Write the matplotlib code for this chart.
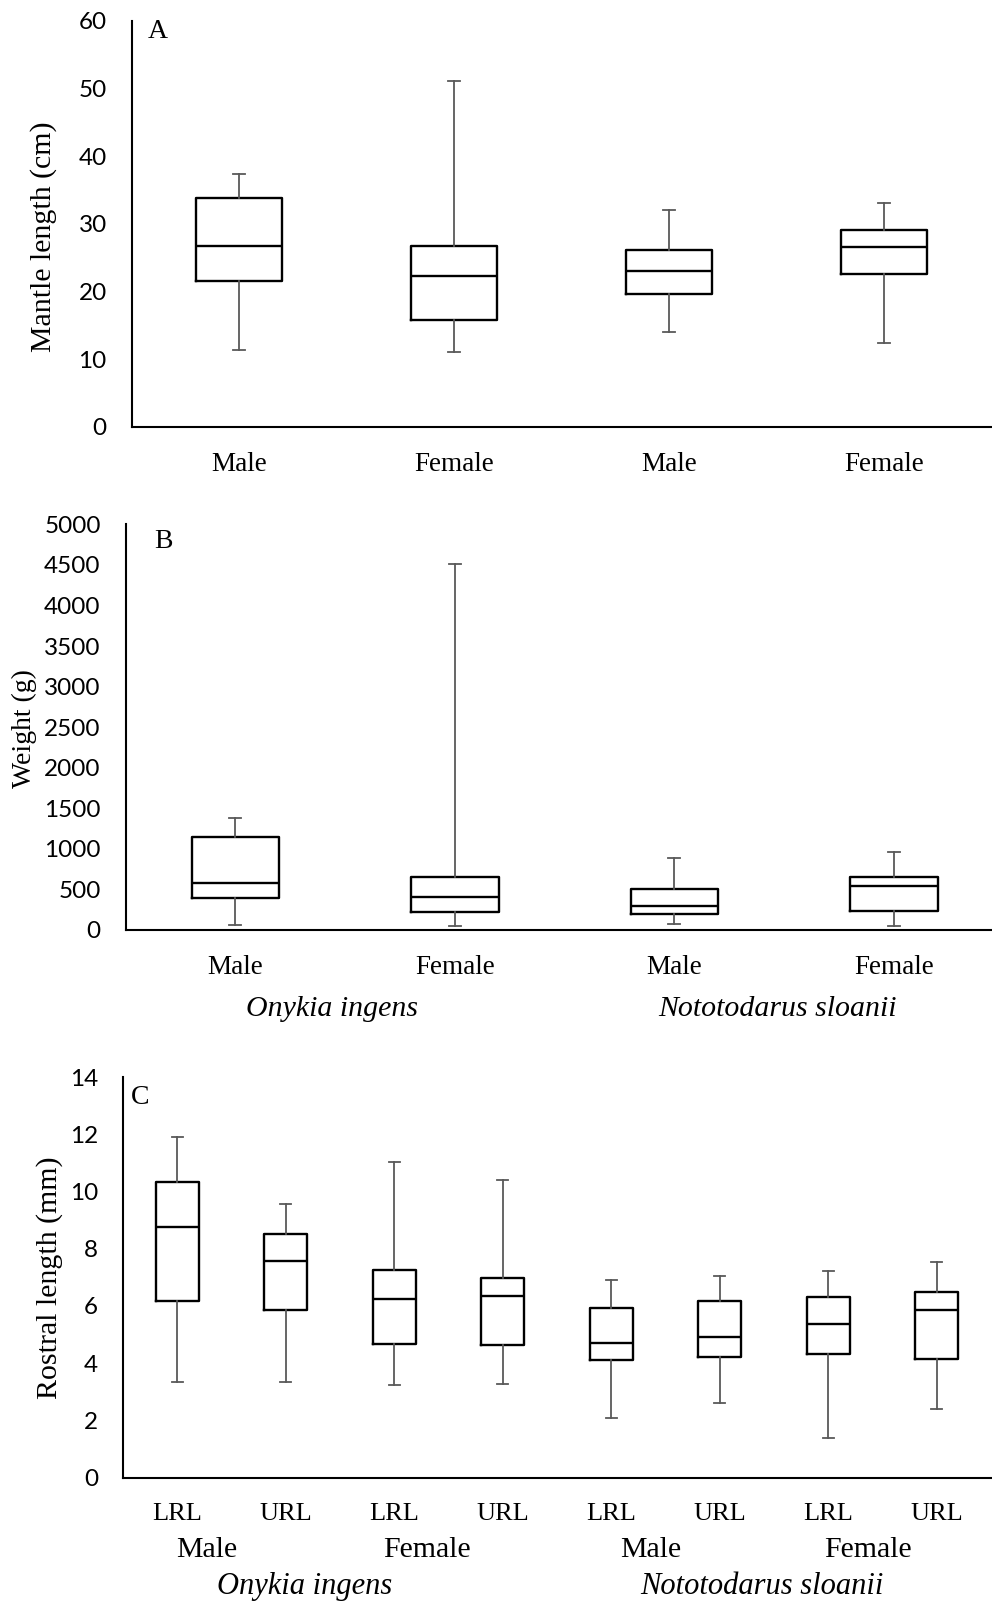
import matplotlib
matplotlib.use("Agg")
import matplotlib.pyplot as plt

# five-number summaries per group: whisker low, Q1, median, Q3, whisker high
sex_labels = ["Male", "Female", "Male", "Female"]
species = ["Onykia ingens", "Nototodarus sloanii"]

mantle_lo = [11.3, 11.1, 14.0, 12.3]
mantle_q1 = [21.6, 15.7, 19.65, 22.5]
mantle_med = [26.75, 22.2, 23.05, 26.55]
mantle_q3 = [33.75, 26.65, 26.1, 29.0]
mantle_hi = [37.4, 51.1, 32.0, 33.1]

weight_lo = [65, 53, 74, 45]
weight_q1 = [390, 218, 193, 230]
weight_med = [575, 411, 292, 538]
weight_q3 = [1142, 657, 501, 657]
weight_hi = [1376, 4507, 891, 965]

beak_labels = ["LRL", "URL", "LRL", "URL", "LRL", "URL", "LRL", "URL"]
beak_groups = ["Male", "Female", "Male", "Female"]
beak_lo = [3.33, 3.33, 3.25, 3.26, 2.09, 2.59, 1.39, 2.40]
beak_q1 = [6.18, 5.87, 4.68, 4.62, 4.10, 4.20, 4.33, 4.14]
beak_med = [8.75, 7.58, 6.25, 6.35, 4.70, 4.91, 5.36, 5.86]
beak_q3 = [10.35, 8.51, 7.26, 6.98, 5.93, 6.16, 6.32, 6.49]
beak_hi = [11.9, 9.56, 11.05, 10.40, 6.90, 7.04, 7.22, 7.53]

W, H = 992, 1603
SERIF = "Liberation Serif"
SANS = "Lato"


def make_stats(lo, q1, med, q3, hi):
    return [dict(whislo=a, q1=b, med=c, q3=d, whishi=e)
            for a, b, c, d, e in zip(lo, q1, med, q3, hi)]


def add_axes_px(fig, left, top, right, bottom):
    return fig.add_axes([left / W, 1 - bottom / H, (right - left) / W, (bottom - top) / H])


def draw_boxes(ax, stats, capw):
    pos = list(range(len(stats)))
    ax.bxp(stats, positions=pos, widths=0.4, showfliers=False,
           capwidths=capw, patch_artist=False,
           boxprops=dict(color="black", linewidth=1.7),
           medianprops=dict(color="black", linewidth=1.7),
           whiskerprops=dict(color="#595959", linewidth=1.3),
           capprops=dict(color="#595959", linewidth=1.3))
    for s in ["top", "right"]:
        ax.spines[s].set_visible(False)
    for s in ["left", "bottom"]:
        ax.spines[s].set_linewidth(1.5)
    ax.set_xlim(-0.5, len(stats) - 0.5)
    ax.tick_params(axis="both", length=0)
    ax.tick_params(axis="y", pad=18, labelsize=17.5)
    ax.tick_params(axis="x", pad=18, labelsize=19.5)
    return pos


def sans_yticks(ax):
    for t in ax.get_yticklabels():
        t.set_fontfamily(SANS)


fig = plt.figure(figsize=(W / 100, H / 100), dpi=100)

# A: mantle length
axA = add_axes_px(fig, 131.7, 20.7, 991.3, 426.7)
pos = draw_boxes(axA, make_stats(mantle_lo, mantle_q1, mantle_med, mantle_q3, mantle_hi), 0.056)
axA.set_ylim(0, 60)
axA.set_yticks(range(0, 61, 10))
axA.set_xticks(pos, sex_labels, fontfamily=SERIF)
sans_yticks(axA)
fig.text(44 / W, 1 - 236.7 / H, "Mantle length (cm)", rotation=90, ha="center", va="center",
         fontsize=21.5, fontfamily=SERIF)
fig.text(158 / W, 1 - 31 / H, "A", ha="center", va="center", fontsize=20, fontfamily=SERIF)

# B: weight
axB = add_axes_px(fig, 125.7, 524.3, 1003.7, 930)
pos = draw_boxes(axB, make_stats(weight_lo, weight_q1, weight_med, weight_q3, weight_hi), 0.055)
axB.set_ylim(0, 5000)
axB.set_yticks(range(0, 5001, 500))
axB.set_xticks(pos, sex_labels, fontfamily=SERIF)
sans_yticks(axB)
fig.text(24.5 / W, 1 - 728.5 / H, "Weight (g)", rotation=90, ha="center", va="center",
         fontsize=20, fontfamily=SERIF)
fig.text(163.5 / W, 1 - 541 / H, "B", ha="center", va="center", fontsize=20, fontfamily=SERIF)
for x, name in zip([0.44, 2.47], species):
    axB.text(x, -0.195, name, transform=axB.get_xaxis_transform(), ha="center", va="center",
             fontsize=21.5, fontstyle="italic", fontfamily=SERIF)

# C: rostral length of lower/upper beaks
axC = add_axes_px(fig, 123, 1077.3, 991, 1477.5)
pos = draw_boxes(axC, make_stats(beak_lo, beak_q1, beak_med, beak_q3, beak_hi), 0.1)
axC.set_ylim(0, 14)
axC.set_yticks(range(0, 15, 2))
axC.set_xticks(pos, beak_labels, fontfamily=SERIF)
axC.tick_params(axis="x", labelsize=19)
sans_yticks(axC)
fig.text(50 / W, 1 - 1277.5 / H, "Rostral length (mm)", rotation=90, ha="center", va="center",
         fontsize=21.5, fontfamily=SERIF)
fig.text(140.5 / W, 1 - 1097 / H, "C", ha="center", va="center", fontsize=20, fontfamily=SERIF)
for x, name in zip([0.27, 2.30, 4.36, 6.37], beak_groups):
    axC.text(x, -0.181, name, transform=axC.get_xaxis_transform(), ha="center", va="center",
             fontsize=21.5, fontfamily=SERIF)
for x, name in zip([1.17, 5.39], species):
    axC.text(x, -0.272, name, transform=axC.get_xaxis_transform(), ha="center", va="center",
             fontsize=22, fontstyle="italic", fontfamily=SERIF)

fig.savefig("out.png", dpi=100)
